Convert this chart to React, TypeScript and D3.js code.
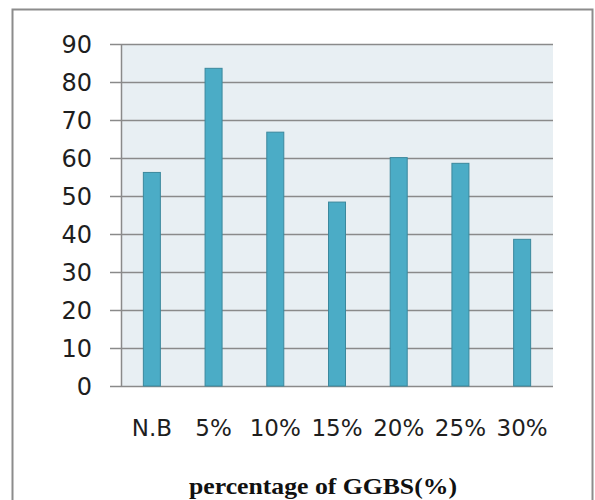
import React, { useEffect, useRef } from 'react';
import * as d3 from 'd3';

const categories = ['N.B', '5%', '10%', '15%', '20%', '25%', '30%'];
const values = [56.2, 83.6, 66.8, 48.4, 60.1, 58.6, 38.6];
const yTicks = [0, 10, 20, 30, 40, 50, 60, 70, 80, 90];
const xTitle = 'percentage of GGBS(%)';

const W = 595;
const H = 500;
const margin = { left: 121, right: 42, top: 44, bottom: 114 };

function App() {
    const ref = useRef<SVGSVGElement>(null);

    useEffect(() => {
        const svg = d3.select(ref.current);
        svg.selectAll('*').remove();

        const plotW = W - margin.left - margin.right;
        const plotH = H - margin.top - margin.bottom;

        const x = d3.scaleBand().domain(categories).range([0, plotW]);
        const y = d3.scaleLinear().domain([0, 90]).range([plotH, 0]);

        // outer frame
        svg.append('rect')
            .attr('x', 12.5).attr('y', 9.5)
            .attr('width', 580).attr('height', 500)
            .attr('fill', '#fff')
            .attr('stroke', '#8c8c8c')
            .attr('stroke-width', 2);

        const g = svg.append('g')
            .attr('transform', `translate(${margin.left}, ${margin.top})`);

        g.append('rect')
            .attr('width', plotW).attr('height', plotH)
            .attr('fill', '#e8eff3');

        // gridlines with tick stubs
        g.selectAll('.grid')
            .data(yTicks)
            .join('line')
                .attr('class', 'grid')
                .attr('x1', -11).attr('x2', plotW)
                .attr('y1', (d) => Math.round(y(d)) + 0.5)
                .attr('y2', (d) => Math.round(y(d)) + 0.5)
                .attr('stroke', '#8a8a8a')
                .attr('stroke-width', 1.5);

        g.append('line')
            .attr('x1', 0.5).attr('x2', 0.5)
            .attr('y1', 0).attr('y2', plotH)
            .attr('stroke', '#8a8a8a')
            .attr('stroke-width', 1.5);

        const barW = 17;
        g.selectAll('.bar')
            .data(values)
            .join('rect')
                .attr('class', 'bar')
                .attr('x', (d, i) => (x(categories[i]) as number) + x.bandwidth() / 2 - barW / 2)
                .attr('y', (d) => y(d))
                .attr('width', barW)
                .attr('height', (d) => plotH - y(d))
                .attr('fill', '#4bacc6')
                .attr('stroke', '#3b889d')
                .attr('stroke-width', 1);

        // y labels
        g.selectAll('.ylab')
            .data(yTicks)
            .join('text')
                .attr('class', 'ylab')
                .attr('x', -29)
                .attr('y', (d) => y(d))
                .attr('dy', '0.36em')
                .attr('text-anchor', 'end')
                .style('font-family', 'DejaVu Sans, sans-serif')
                .style('font-size', '24px')
                .attr('fill', '#1e1e1e')
                .text((d) => d);

        // x labels
        g.selectAll('.xlab')
            .data(categories)
            .join('text')
                .attr('class', 'xlab')
                .attr('x', (d) => (x(d) as number) + x.bandwidth() / 2)
                .attr('y', plotH + 50)
                .attr('text-anchor', 'middle')
                .style('font-family', 'DejaVu Sans, sans-serif')
                .style('font-size', '23px')
                .attr('fill', '#1e1e1e')
                .text((d) => d);

        svg.append('text')
            .attr('x', 189)
            .attr('y', 494)
            .attr('textLength', 268)
            .attr('lengthAdjust', 'spacingAndGlyphs')
            .style('font-family', 'Liberation Serif, serif')
            .style('font-weight', 'bold')
            .style('font-size', '23px')
            .attr('fill', '#111')
            .text(xTitle);
    }, []);

    return (
        <svg ref={ref} width={W} height={H}
            style={{ position: 'fixed', left: 0, top: 0, background: '#fff' }}></svg>
    );
}

export default App;
